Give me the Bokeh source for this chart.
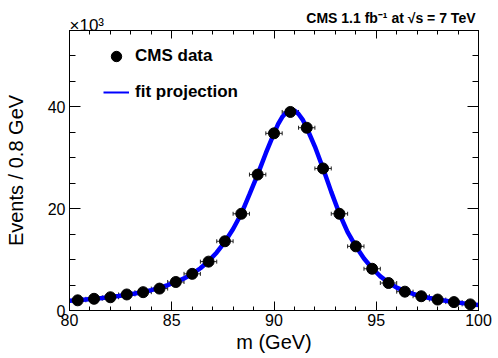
from bokeh.plotting import figure
from bokeh.models import (LinearAxis, Whisker, TeeHead, Legend, LegendItem, Title,
                          ColumnDataSource, SingleIntervalTicker, CustomJSTickFormatter)
from bokeh.embed import file_html
from bokeh.resources import INLINE

# ---- data (events in units of 10^3) ----
bin_centers = [80.4, 81.2, 82.0, 82.8, 83.6, 84.4, 85.2, 86.0, 86.8, 87.6,
               88.4, 89.2, 90.0, 90.8, 91.6, 92.4, 93.2, 94.0, 94.8, 95.6,
               96.4, 97.2, 98.0, 98.8, 99.6]
events_k = [2.0, 2.3, 2.6, 3.15, 3.6, 4.3, 5.6, 7.2, 9.6, 13.6,
            19.0, 26.7, 34.8, 39.0, 35.9, 27.9, 19.0, 12.6, 8.2, 5.4,
            3.7, 2.8, 2.15, 1.65, 1.2]
bin_width = 0.8

fit_mass = [80.0, 80.4, 80.8, 81.2, 81.6, 82.0, 82.4, 82.8, 83.2, 83.6,
            84.0, 84.4, 84.8, 85.2, 85.6, 86.0, 86.4, 86.8, 87.2, 87.6,
            88.0, 88.4, 88.8, 89.2, 89.6, 90.0, 90.2, 90.4, 90.6, 90.8,
            91.0, 91.2, 91.4, 91.6, 92.0, 92.4, 92.8, 93.2, 93.6, 94.0,
            94.4, 94.8, 95.2, 95.6, 96.0, 96.4, 96.8, 97.2, 97.6, 98.0,
            98.4, 98.8, 99.2, 99.6, 100.0]
fit_events_k = [1.9, 2.0, 2.15, 2.3, 2.45, 2.65, 2.85, 3.1, 3.35, 3.65,
                4.0, 4.45, 5.0, 5.6, 6.3, 7.2, 8.3, 9.7, 11.4, 13.5,
                16.0, 19.0, 22.8, 26.7, 30.9, 34.8, 36.6, 38.0, 38.9, 39.25,
                39.3, 38.6, 37.5, 35.9, 32.2, 27.9, 23.3, 19.0, 15.4, 12.6,
                10.2, 8.3, 6.7, 5.5, 4.5, 3.8, 3.25, 2.8, 2.45, 2.15,
                1.9, 1.65, 1.45, 1.25, 1.1]

x_min, x_max = 80, 100
x_tick_interval = 5
y_tick_interval = 20

header_text = "CMS 1.1 fb\u207b\u00b9 at \u221as = 7 TeV"
exponent_text = "\u00d710\u00b3"
x_title = "m (GeV)"
y_title = "Events / 0.8 GeV"
legend_labels = ["CMS data", "fit projection"]

FONT = "Liberation Sans"

p = figure(width=498, height=358, x_range=(x_min, x_max), y_range=(0, 55),
           output_backend="svg", toolbar_location=None,
           min_border_left=69, min_border_right=20, min_border_top=30, min_border_bottom=48,
           x_axis_location=None, y_axis_location=None)
p.xgrid.visible = False
p.ygrid.visible = False
p.outline_line_color = "black"
p.outline_line_width = 1
p.background_fill_color = "white"
p.border_fill_color = "white"

p.title.text = header_text
p.title.align = "right"
p.title.text_font = FONT
p.title.text_font_size = "14px"
p.title.text_font_style = "bold"
p.title.text_color = "black"
p.title.offset = 3
p.title.standoff = -15

blank = CustomJSTickFormatter(code="return ''")


def style_axis(ax, major_in, minor_in, labels):
    ax.major_tick_in = major_in
    ax.major_tick_out = 0
    ax.minor_tick_in = minor_in
    ax.minor_tick_out = 0
    ax.axis_line_color = "black"
    ax.major_tick_line_color = "black"
    ax.minor_tick_line_color = "black"
    ax.major_label_text_font = FONT
    ax.major_label_text_color = "black"
    ax.axis_label_text_font = FONT
    ax.axis_label_text_font_style = "normal"
    ax.axis_label_text_color = "black"
    ax.axis_label_text_font_size = "20px"
    ax.major_label_text_font_size = "16px"
    if not labels:
        ax.formatter = blank
        ax.major_label_standoff = 0


xb = LinearAxis(ticker=SingleIntervalTicker(interval=x_tick_interval, num_minor_ticks=5),
                axis_label=x_title)
style_axis(xb, 9, 4, True)
xb.major_label_standoff = 3
xb.axis_label_standoff = 2
p.add_layout(xb, "below")

# top axis: ticks only
xt = LinearAxis(ticker=SingleIntervalTicker(interval=x_tick_interval, num_minor_ticks=5))
style_axis(xt, 8, 4, False)
p.add_layout(xt, "above")

# x10^3 multiplier, left-aligned above the frame
exp_title = Title(text=exponent_text, align="left", offset=0, standoff=-9,
                  text_font=FONT, text_font_size="17px", text_font_style="normal",
                  text_color="black")
p.add_layout(exp_title, "above")

yl = LinearAxis(ticker=SingleIntervalTicker(interval=y_tick_interval, num_minor_ticks=4),
                axis_label=y_title)
style_axis(yl, 11, 6, True)
yl.axis_label_text_font_size = "20px"
yl.major_label_standoff = 4
yl.axis_label_standoff = 18
p.add_layout(yl, "left")

yr = LinearAxis(ticker=SingleIntervalTicker(interval=y_tick_interval, num_minor_ticks=4))
style_axis(yr, 11, 6, False)
p.add_layout(yr, "right")

# fit curve
fit = p.line(fit_mass, fit_events_k, line_color="#0000ff", line_width=4.5)

# data with horizontal bin-width error bars
src = ColumnDataSource(dict(
    x=bin_centers, y=events_k,
    lo=[c - bin_width / 2 for c in bin_centers],
    hi=[c + bin_width / 2 for c in bin_centers]))
wh = Whisker(source=src, base="y", lower="lo", upper="hi", dimension="width",
             line_color="#222222", line_width=1,
             lower_head=TeeHead(size=4, line_color="#222222", line_width=1),
             upper_head=TeeHead(size=4, line_color="#222222", line_width=1))
p.add_layout(wh)
pts = p.scatter("x", "y", source=src, size=11, fill_color="black", line_color="black")

# legend-only line (thin), no visible data
leg_line = p.line([float("nan")], [float("nan")], line_color="#0000ff", line_width=2)

legend = Legend(items=[LegendItem(label=legend_labels[0], renderers=[pts]),
                       LegendItem(label=legend_labels[1], renderers=[leg_line])],
                location=(34, 205), orientation="vertical",
                glyph_width=26, glyph_height=26, label_height=26, spacing=10,
                label_standoff=6, padding=0, margin=0,
                border_line_color=None, background_fill_alpha=0,
                label_text_font=FONT, label_text_font_style="bold",
                label_text_font_size="17px", label_text_color="black")
p.add_layout(legend)

open("out.html", "w").write(file_html(p, INLINE))
